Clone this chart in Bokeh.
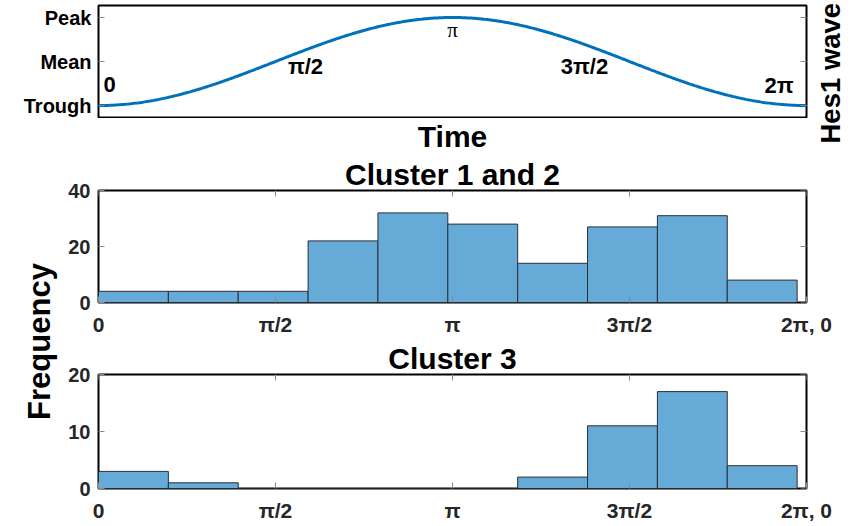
import numpy as np
from bokeh.plotting import figure
from bokeh.models import Range1d, FixedTicker, LinearAxis, Label, Title
from bokeh.layouts import column, row
from bokeh.embed import file_html
from bokeh.resources import INLINE

# ---------------- data ----------------
phase_ticks = [0, np.pi / 2, np.pi, 3 * np.pi / 2, 2 * np.pi]
phase_tick_labels = ["0", "π/2", "π", "3π/2", "2π, 0"]
wave_mark_labels = ["0", "π/2", "π", "3π/2", "2π"]
level_ticks = [-1, 0, 1]
level_labels = ["Trough", "Mean", "Peak"]
bin_edges = [0.00, 0.62, 1.24, 1.86, 2.48, 3.10, 3.72, 4.34, 4.96, 5.58, 6.20]
cluster12_counts = [4, 4, 4, 22, 32, 28, 14, 27, 31, 8]
cluster3_counts = [3, 1, 0, 0, 0, 0, 2, 11, 17, 4]
cluster12_yticks = [0, 20, 40]
cluster3_yticks = [0, 10, 20]

# idealised Hes1 wave: trough at phase 0 / 2π, peak at π
wave_phase = np.linspace(0, 2 * np.pi, 400)
wave_level = -np.cos(wave_phase)

FONT = "Liberation Sans"
TICK_COL = "#8a8a8a"
BAR_FILL = "#66AAD7"
BAR_LINE = "#2a2f36"
LINE_COL = "#0072BD"
TWO_PI = 2 * np.pi


def base_fig(w, h, xr, yr, left, right, top, bottom, outline=True):
    p = figure(width=w, height=h, x_range=xr, y_range=yr,
               output_backend="svg", toolbar_location=None,
               x_axis_location=None, y_axis_location=None,
               min_border_left=left, min_border_right=right,
               min_border_top=top, min_border_bottom=bottom)
    p.grid.visible = False
    p.outline_line_color = "black" if outline else None
    p.outline_line_width = 2
    p.background_fill_color = "white"
    p.border_fill_color = "white"
    return p


def tick_axis(ticks, overrides=None, standoff=7, size="20px", color="#262626"):
    ax = LinearAxis(ticker=FixedTicker(ticks=ticks))
    if overrides:
        ax.major_label_overrides = overrides
    ax.axis_line_color = None
    ax.major_tick_in = 6
    ax.major_tick_out = 0
    ax.major_tick_line_color = TICK_COL
    ax.major_tick_line_width = 1
    ax.minor_tick_line_color = None
    ax.major_label_text_font = FONT
    ax.major_label_text_font_style = "bold"
    ax.major_label_text_color = color
    ax.major_label_text_font_size = size
    ax.major_label_standoff = standoff
    return ax


def mirror_ticks(p, xs, ys, vertical):
    # inward tick marks on the top / right edges of the box (half clipped by frame)
    p.scatter(xs, ys, marker="dash", size=12, angle=np.pi / 2 if vertical else 0,
              line_color=TICK_COL, line_width=1)


def big_label(x, y, text, angle=0.0, align="center", size="30px"):
    return Label(x=x, y=y, text=text, angle=angle, text_align=align,
                 text_baseline="middle", text_font=FONT,
                 text_font_style="bold", text_font_size=size,
                 text_color="black")


# ---------------- top panel: Hes1 wave ----------------
top = base_fig(812, 118, Range1d(0, TWO_PI), Range1d(-1.295, 1.273),
               left=98, right=6, top=5, bottom=0)
top.line(wave_phase, wave_level, line_color=LINE_COL, line_width=3)
top.add_layout(tick_axis(level_ticks, dict(zip(level_ticks, level_labels)),
                         standoff=7, size="20px", color="black"), "left")
mirror_ticks(top, [TWO_PI] * len(level_ticks), level_ticks, vertical=False)

mark_offsets = [(5, 20.6, "left"), (30, -5.4, "center"), (0, -12.8, "center"),
                (-45, -5.4, "center"), (-13, 19.6, "right")]
for ph, txt, (dx, dy, al) in zip(phase_ticks, wave_mark_labels, mark_offsets):
    is_pi = txt == "π"
    top.add_layout(Label(x=ph, y=-np.cos(ph), x_offset=dx, y_offset=dy,
                         text=txt, text_align=al, text_baseline="middle",
                         text_font="Liberation Serif" if is_pi else FONT,
                         text_font_style="normal" if is_pi else "bold",
                         text_font_size="21px" if is_pi else "22px",
                         text_color="black"))

time_fig = base_fig(812, 35, Range1d(0, TWO_PI), Range1d(0, 35),
                    left=98, right=6, top=0, bottom=0, outline=False)
time_fig.add_layout(big_label(np.pi, 17.4, "Time"))

hes_fig = base_fig(38, 153, Range1d(0, 38), Range1d(0, 153),
                   left=0, right=0, top=0, bottom=0, outline=False)
hes_fig.add_layout(big_label(18.4, 10, "Hes1 wave", angle=np.pi / 2,
                             align="left", size="27.5px"))


# ---------------- histograms ----------------
def hist_fig(counts, yticks, title, h, top_b, bottom_b):
    p = base_fig(790, h, Range1d(0, TWO_PI), Range1d(yticks[0], yticks[-1]),
                 left=38, right=44, top=top_b, bottom=bottom_b)
    p.title = None
    p.add_layout(Title(text=title, align="center", vertical_align="bottom",
                       standoff=0, text_font=FONT, text_font_style="bold",
                       text_font_size="30px", text_color="black"), "above")
    p.quad(left=bin_edges[:-1], right=bin_edges[1:], bottom=0, top=counts,
           fill_color=BAR_FILL, line_color=BAR_LINE, line_width=1)
    p.add_layout(tick_axis(phase_ticks,
                           dict(zip(phase_ticks, phase_tick_labels)),
                           standoff=10, size="21px"), "below")
    p.add_layout(tick_axis(yticks, standoff=8, size="20px"), "left")
    mirror_ticks(p, phase_ticks, [yticks[-1]] * len(phase_ticks), vertical=True)
    mirror_ticks(p, [TWO_PI] * len(yticks), yticks, vertical=False)
    return p


h12 = hist_fig(cluster12_counts, cluster12_yticks, "Cluster 1 and 2", 185, 37, 34)
h3 = hist_fig(cluster3_counts, cluster3_yticks, "Cluster 3", 186, 36, 35)

# ---------------- shared y label ----------------
freq = base_fig(60, 371, Range1d(0, 60), Range1d(0, 371),
                left=0, right=0, top=0, bottom=0, outline=False)
freq.add_layout(big_label(39.2, 183, "Frequency", angle=np.pi / 2, size="31px"))

layout = column(row(column(top, time_fig), hes_fig),
                row(freq, column(h12, h3)))

open("out.html", "w").write(file_html(layout, INLINE))
